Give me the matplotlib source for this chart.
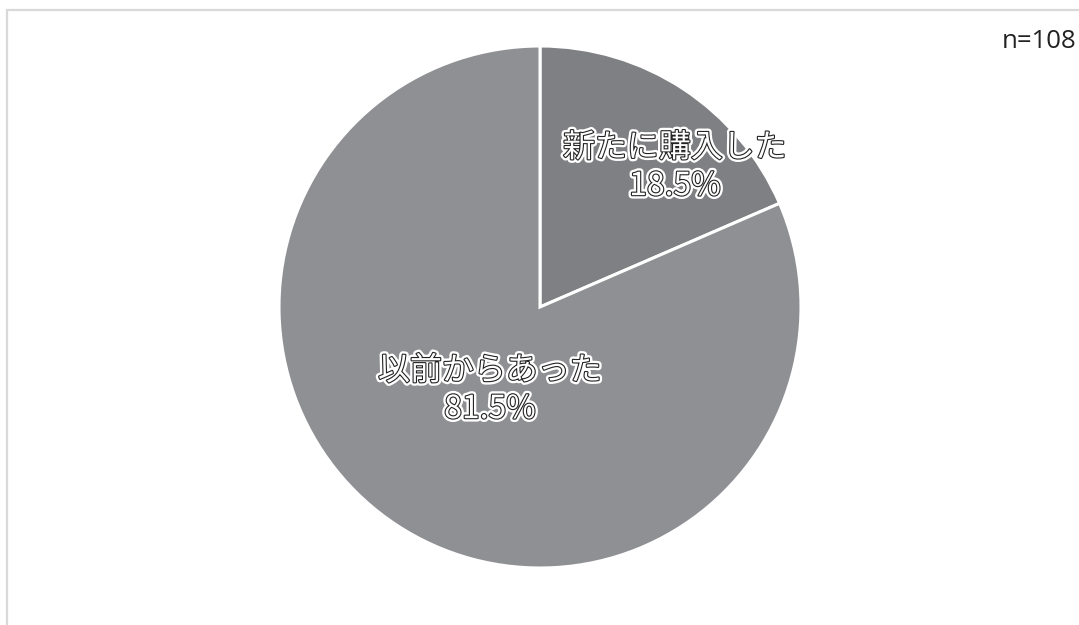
import matplotlib
matplotlib.use('Agg')
from matplotlib import pyplot as plt
from matplotlib import patheffects as pe
from matplotlib.patches import Rectangle

plt.rcParams['font.family'] = ['Noto Sans CJK JP', 'DejaVu Sans']

categories = ['新たに購入した', '以前からあった']
shares = [18.5, 81.5]
sample_size = 108

slice_colors = ['#7f8083', '#8f9093']

W, H = 1079, 625
fig = plt.figure(figsize=(W / 100, H / 100), dpi=100)
ax = fig.add_axes([0, 0, 1, 1])

center = (540, H - 307)
ax.pie(shares, colors=slice_colors, startangle=90, counterclock=False,
       center=center, radius=261, frame=True,
       wedgeprops=dict(edgecolor='white', linewidth=2.2))
ax.set_xlim(0, W)
ax.set_ylim(0, H)
ax.set_aspect('equal')
ax.axis('off')

# outer frame of the chart area, right and bottom edges run off the canvas
ax.add_patch(Rectangle((7, -20), W + 20, H - 10 + 20, fill=False,
                       edgecolor='#d9d9d9', linewidth=1.6))

outline = [pe.Stroke(linewidth=5, foreground='white'),
           pe.Stroke(linewidth=1.6, foreground='#222222'),
           pe.Normal()]

label_pos = [(675, H - 167), (490, H - 390)]
for name, val, (x, y) in zip(categories, shares, label_pos):
    ax.text(x, y, f'{name}\n{val:.1f}%', ha='center', va='center',
            fontsize=23, color='white', linespacing=1.25,
            path_effects=outline)

ax.text(1076, H - 42, f'n={sample_size}', ha='right', va='center',
        fontsize=18.5, color='#222222', family=['Open Sans', 'DejaVu Sans'])

fig.savefig('out.png', dpi=100)
